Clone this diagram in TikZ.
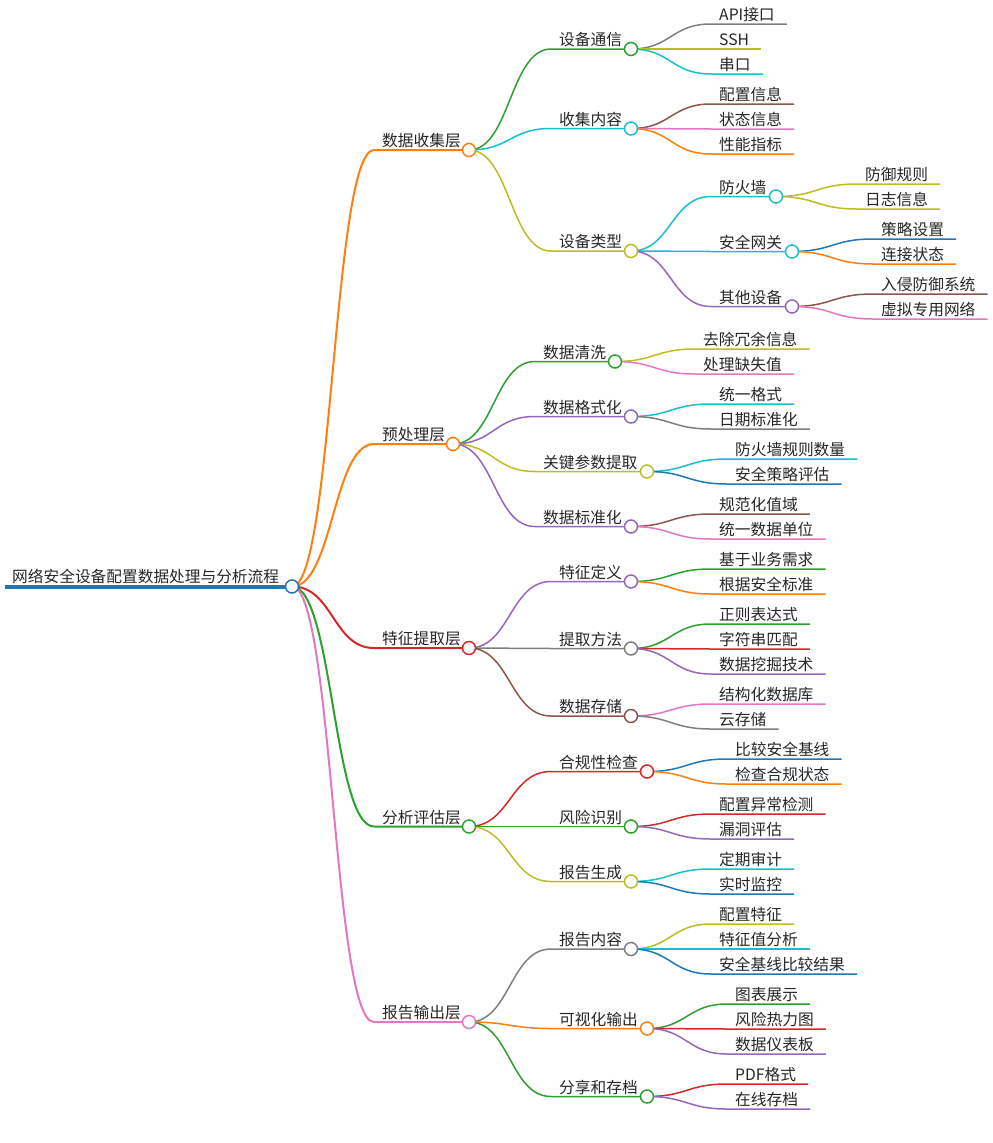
\documentclass[tikz,border=0pt]{standalone}
\usepackage{fontspec}
\setmainfont{Noto Sans CJK SC}
\usetikzlibrary{calc}
\pgfdeclarelayer{background}
\pgfsetlayers{background,main}
\definecolor{mBlue}{HTML}{1F77B4}
\definecolor{mOrange}{HTML}{FF7F0E}
\definecolor{mGreen}{HTML}{2CA02C}
\definecolor{mRed}{HTML}{D62728}
\definecolor{mPurple}{HTML}{9467BD}
\definecolor{mBrown}{HTML}{8C564B}
\definecolor{mPink}{HTML}{E377C2}
\definecolor{mGray}{HTML}{7F7F7F}
\definecolor{mOlive}{HTML}{BCBD22}
\definecolor{mCyan}{HTML}{17BECF}
\definecolor{textc}{HTML}{262626}
\tikzset{
  lbl/.style={anchor=base west, inner sep=0pt, text=textc, font=\fontsize{15.7}{18}\selectfont},
  knob/.style={line width=1.5pt, fill=white},
}
% inner node: parent, name, text x, line y, colour, link width, circle x, text
\newcommand\mmin[8]{%
  \node[lbl] (#2) at (#3,#4-3.2) {#8};
  \coordinate (#2-s) at (#3-8,#4);
  \coordinate (#2-c) at (#7,#4);
  \path ($(#1-c)!.5!(#2-s)$) coordinate (#2-m);
  \begin{pgfonlayer}{background}
  \draw[#5, line width=#6pt] (#1-c) .. controls (#2-m |- #1-c) and (#2-m |- #2-s) .. (#2-s) -- (#2-c);
  \end{pgfonlayer}
  \draw[#5, knob] (#2-c) circle[radius=6.5pt];
}
% leaf node: parent, name, text x, line y, colour, text
\newcommand\mmleaf[6]{%
  \node[lbl] (#2) at (#3,#4-3.2) {#6};
  \coordinate (#2-s) at (#3-8,#4);
  \path (#2.east) ++(12pt,0) coordinate (#2-t);
  \path ($(#1-c)!.5!(#2-s)$) coordinate (#2-m);
  \begin{pgfonlayer}{background}
  \draw[#5, line width=1.5pt] (#1-c) .. controls (#2-m |- #1-c) and (#2-m |- #2-s) .. (#2-s) -- (#2-t |- #2-s);
  \end{pgfonlayer}
}
\begin{document}
\begin{tikzpicture}[x=1pt,y=-1pt]
\useasboundingbox (0,0) rectangle (993,1143);
% root
\node[lbl] (root) at (12,582) {网络安全设备配置数据处理与分析流程};
\coordinate (root-s) at (5,586.5);
\coordinate (root-c) at (292,586.5);
\begin{pgfonlayer}{background}
\draw[mBlue, line width=4pt] (root-s) -- (root-c);
\end{pgfonlayer}
\draw[mBlue, knob] (root-c) circle[radius=6.5pt];

% level 1
\mmin{root}{a}{382}{150}{mOrange}{2}{469}{数据收集层}
\mmin{root}{b}{382}{444}{mOrange}{2}{453}{预处理层}
\mmin{root}{c}{382}{648}{mRed}{2}{469}{特征提取层}
\mmin{root}{d}{382}{826.5}{mGreen}{2}{469}{分析评估层}
\mmin{root}{e}{382}{1022}{mPink}{2}{469}{报告输出层}

% 数据收集层
\mmin{a}{a1}{559}{49}{mGreen}{1.5}{631}{设备通信}
\mmin{a}{a2}{559}{128.5}{mCyan}{1.5}{631}{收集内容}
\mmin{a}{a3}{559}{251}{mOlive}{1.5}{631}{设备类型}
\mmleaf{a1}{a11}{719}{24}{mGray}{API接口}
\mmleaf{a1}{a12}{719}{49}{mOlive}{SSH}
\mmleaf{a1}{a13}{719}{74}{mCyan}{串口}
\mmleaf{a2}{a21}{719}{104}{mBrown}{配置信息}
\mmleaf{a2}{a22}{719}{129}{mPink}{状态信息}
\mmleaf{a2}{a23}{719}{154}{mOrange}{性能指标}
\mmin{a3}{a31}{719}{196.5}{mCyan}{1.5}{776}{防火墙}
\mmin{a3}{a32}{719}{251.5}{mCyan}{1.5}{792}{安全网关}
\mmin{a3}{a33}{719}{306.5}{mPurple}{1.5}{792}{其他设备}
\mmleaf{a31}{a311}{865}{184}{mOlive}{防御规则}
\mmleaf{a31}{a312}{865}{209}{mOlive}{日志信息}
\mmleaf{a32}{a321}{881}{239}{mBlue}{策略设置}
\mmleaf{a32}{a322}{881}{264}{mOrange}{连接状态}
\mmleaf{a33}{a331}{881}{294}{mBrown}{入侵防御系统}
\mmleaf{a33}{a332}{881}{319}{mPink}{虚拟专用网络}

% 预处理层
\mmin{b}{b1}{543}{361.5}{mGreen}{1.5}{615}{数据清洗}
\mmin{b}{b2}{543}{416.5}{mPurple}{1.5}{631}{数据格式化}
\mmin{b}{b3}{543}{471.5}{mOlive}{1.5}{647}{关键参数提取}
\mmin{b}{b4}{543}{526.5}{mPurple}{1.5}{631}{数据标准化}
\mmleaf{b1}{b11}{703}{349}{mOlive}{去除冗余信息}
\mmleaf{b1}{b12}{703}{374}{mPink}{处理缺失值}
\mmleaf{b2}{b21}{719}{404}{mCyan}{统一格式}
\mmleaf{b2}{b22}{719}{429}{mGray}{日期标准化}
\mmleaf{b3}{b31}{735}{459}{mCyan}{防火墙规则数量}
\mmleaf{b3}{b32}{735}{484}{mBlue}{安全策略评估}
\mmleaf{b4}{b41}{719}{514}{mBrown}{规范化值域}
\mmleaf{b4}{b42}{719}{539}{mPink}{统一数据单位}

% 特征提取层
\mmin{c}{c1}{559}{581.5}{mPurple}{1.5}{631}{特征定义}
\mmin{c}{c2}{559}{648.5}{mGray}{1.5}{631}{提取方法}
\mmin{c}{c3}{559}{716}{mBrown}{1.5}{631}{数据存储}
\mmleaf{c1}{c11}{719}{569}{mGreen}{基于业务需求}
\mmleaf{c1}{c12}{719}{594}{mOrange}{根据安全标准}
\mmleaf{c2}{c21}{719}{624}{mGreen}{正则表达式}
\mmleaf{c2}{c22}{719}{649}{mRed}{字符串匹配}
\mmleaf{c2}{c23}{719}{674}{mPurple}{数据挖掘技术}
\mmleaf{c3}{c31}{719}{704}{mPink}{结构化数据库}
\mmleaf{c3}{c32}{719}{729}{mGray}{云存储}

% 分析评估层
\mmin{d}{d1}{559}{771.5}{mRed}{1.5}{647}{合规性检查}
\mmin{d}{d2}{559}{826.5}{mGreen}{1.5}{631}{风险识别}
\mmin{d}{d3}{559}{881.5}{mOlive}{1.5}{631}{报告生成}
\mmleaf{d1}{d11}{735}{759}{mBlue}{比较安全基线}
\mmleaf{d1}{d12}{735}{784}{mOrange}{检查合规状态}
\mmleaf{d2}{d21}{719}{814}{mRed}{配置异常检测}
\mmleaf{d2}{d22}{719}{839}{mPurple}{漏洞评估}
\mmleaf{d3}{d31}{719}{869}{mCyan}{定期审计}
\mmleaf{d3}{d32}{719}{894}{mBlue}{实时监控}

% 报告输出层
\mmin{e}{e1}{559}{949}{mGray}{1.5}{631}{报告内容}
\mmin{e}{e2}{559}{1028.5}{mOrange}{1.5}{647}{可视化输出}
\mmin{e}{e3}{559}{1096.5}{mGreen}{1.5}{647}{分享和存档}
\mmleaf{e1}{e11}{719}{924}{mOlive}{配置特征}
\mmleaf{e1}{e12}{719}{949}{mCyan}{特征值分析}
\mmleaf{e1}{e13}{719}{974}{mBlue}{安全基线比较结果}
\mmleaf{e2}{e21}{735}{1004}{mGreen}{图表展示}
\mmleaf{e2}{e22}{735}{1029}{mRed}{风险热力图}
\mmleaf{e2}{e23}{735}{1054}{mPurple}{数据仪表板}
\mmleaf{e3}{e31}{735}{1084}{mRed}{PDF格式}
\mmleaf{e3}{e32}{735}{1109}{mPurple}{在线存档}
\end{tikzpicture}
\end{document}
